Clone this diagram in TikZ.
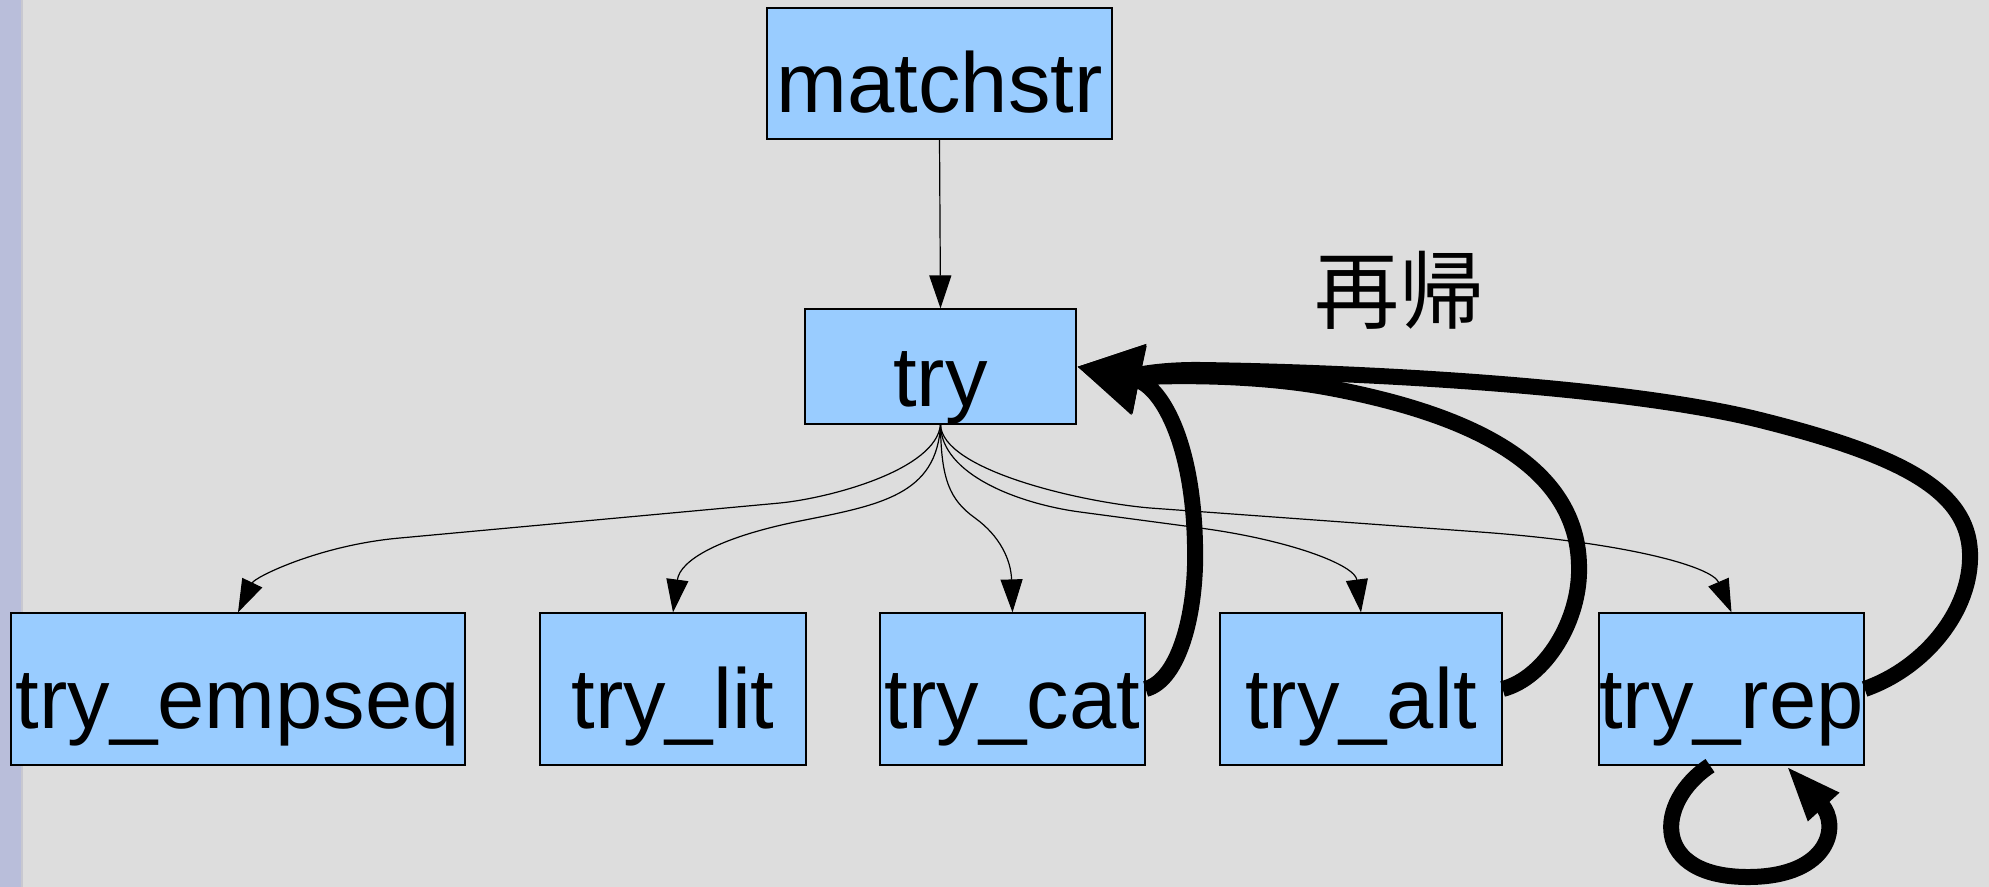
\documentclass[tikz,border=0pt]{standalone}
\usepackage{fontspec}
\setmainfont{Liberation Sans}
\newfontfamily\cjkfont{Noto Sans CJK JP}
\usetikzlibrary{arrows.meta}
\definecolor{canvas}{RGB}{221,221,221}
\definecolor{sidebar}{RGB}{185,190,218}
\definecolor{sideedge}{RGB}{200,200,208}
\definecolor{boxblue}{RGB}{153,204,255}
\begin{document}
\begin{tikzpicture}[x=0.5pt,y=-0.5pt,
  box/.style={draw=black, line width=0.6pt, fill=boxblue, inner sep=0pt,
    text height=39.5pt, text depth=0pt, font=\fontsize{42.5}{50}\selectfont},
  call/.style={line width=0.6pt, -{Triangle[length=16.5pt,width=11pt]}},
  recur/.style={line width=8pt, -{Triangle[length=32pt,width=33pt]}},
  selfrecur/.style={line width=8pt, -{Triangle[length=28pt,width=19pt]}},
]
% canvas and side strip
\fill[canvas] (0,0) rectangle (1989,887);
\fill[sidebar] (0,0) rectangle (21,887);
\fill[sideedge] (21,0) rectangle (22.5,887);
\useasboundingbox (0,0) rectangle (1989,887);

% functions
\node[box, minimum width=172.5pt, minimum height=65.5pt] (matchstr) at (939.5,73.5) {matchstr};
\node[box, minimum width=135.5pt, minimum height=57.5pt] (try) at (940.5,366.5) {try};
\node[box, minimum width=227pt, minimum height=76pt] (empseq) at (238,689) {try\_empseq};
\node[box, minimum width=133pt, minimum height=76pt] (lit) at (673,689) {try\_lit};
\node[box, minimum width=132.5pt, minimum height=76pt] (cat) at (1012.5,689) {try\_cat};
\node[box, minimum width=141pt, minimum height=76pt] (alt) at (1361,689) {try\_alt};
\node[box, minimum width=132.5pt, minimum height=76pt] (rep) at (1731.5,689) {try\_rep};

\node[font=\cjkfont\fontsize{42.5}{50}\selectfont, inner sep=0pt, anchor=base] (lbl) at (1399,322) {再帰};

% calls
\draw[call] (matchstr.south) -- (try.north);
\draw[call] (try.south) .. controls (936,470) and (830,498) .. (780,503)
  -- (400,538) .. controls (320,545) and (255,577) .. (empseq.north);
\draw[call] (try.south) .. controls (937,495) and (880,505) .. (800,521)
  .. controls (720,537) and (680,560) .. (lit.north);
\draw[call] (try.south) .. controls (941,480) and (950,500) .. (975,518)
  .. controls (1000,536) and (1011,560) .. (cat.north);
\draw[call] (try.south) .. controls (941,475) and (1020,504) .. (1080,512)
  -- (1200,528) .. controls (1290,540) and (1355,565) .. (alt.north);
\draw[call] (try.south) .. controls (942,470) and (1080,502) .. (1150,508)
  -- (1480,532) .. controls (1630,543) and (1712,567) .. (rep.north);

% recursive calls back into try
\draw[recur] (cat.east) .. controls (1180,680) and (1197,610) .. (1195,545)
  .. controls (1193,440) and (1160,385) .. (try.east);
\draw[recur] (alt.east) .. controls (1545,678) and (1581,620) .. (1579,565)
  .. controls (1577,480) and (1500,420) .. (1330,388)
  .. controls (1240,371) and (1130,377) .. (try.east);
\draw[recur] (rep.east) .. controls (1925,668) and (1972,610) .. (1970,553)
  .. controls (1968,490) and (1900,455) .. (1760,420)
  .. controls (1620,385) and (1350,372) .. (1200,370)
  .. controls (1160,369.5) and (1125,376) .. (try.east);
\draw[selfrecur] ([xshift=-10.75pt]rep.south) .. controls (1655,802) and (1650,878) .. (1750,877)
  .. controls (1830,876) and (1840,825) .. ([xshift=27.25pt]rep.south);
\end{tikzpicture}
\end{document}
